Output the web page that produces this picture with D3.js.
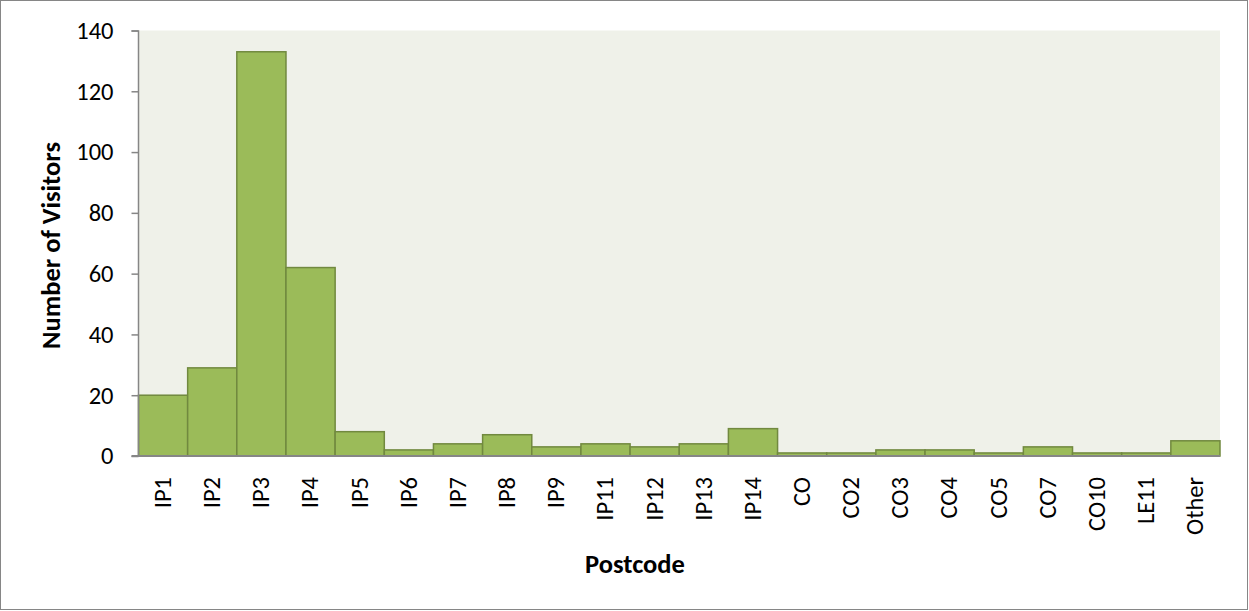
<!DOCTYPE html>
<html>
<head>
<meta charset="utf-8">
<script src="https://cdn.jsdelivr.net/npm/d3@7"></script>
<style>
  html, body { margin: 0; padding: 0; background: #fff; }
  svg { display: block; }
  svg text { font-family: Carlito, Lato, "Open Sans", sans-serif; }
</style>
</head>
<body>
<svg id="chart" width="1249" height="611"></svg>
<script>
// Visitors by postcode
const categories = ["IP1","IP2","IP3","IP4","IP5","IP6","IP7","IP8","IP9","IP11","IP12","IP13","IP14","CO","CO2","CO3","CO4","CO5","CO7","CO10","LE11","Other"];
const visitors = [20, 29, 133, 62, 8, 2, 4, 7, 3, 4, 3, 4, 9, 1, 1, 2, 2, 1, 3, 1, 1, 5];
const yTicks = [0, 20, 40, 60, 80, 100, 120, 140];

const svg = d3.select("#chart");
const W = 1249, H = 611;
const margin = { left: 138.5, right: 29, top: 30.5, bottom: 155 };
const plotW = W - margin.left - margin.right;
const plotH = H - margin.top - margin.bottom;
const FONT = "Carlito, Lato, 'Open Sans', sans-serif";

// outer frame
svg.append("rect")
  .attr("x", 0.5).attr("y", 0.5)
  .attr("width", W - 2).attr("height", H - 2)
  .attr("fill", "#fff").attr("stroke", "#868686").attr("stroke-width", 1);

const g = svg.append("g").attr("transform", `translate(${margin.left},${margin.top})`);

const x = d3.scaleBand().domain(categories).range([0, plotW]).paddingInner(0).paddingOuter(0);
const y = d3.scaleLinear().domain([0, 140]).range([plotH, 0]);

// plot background
g.append("rect")
  .attr("x", 0).attr("y", 0)
  .attr("width", plotW).attr("height", plotH)
  .attr("fill", "#EFF1E9");

// bars
g.selectAll("rect.bar")
  .data(categories.map((c, i) => ({ c, v: visitors[i] })))
  .join("rect")
  .attr("class", "bar")
  .attr("x", d => x(d.c))
  .attr("y", d => y(d.v))
  .attr("width", x.bandwidth())
  .attr("height", d => plotH - y(d.v))
  .attr("fill", "#9BBB59")
  .attr("stroke", "#71893F")
  .attr("stroke-width", 1.5);

// y axis
const yAxis = g.append("g")
  .attr("font-family", FONT)
  .call(d3.axisLeft(y).tickValues(yTicks).tickSize(7).tickPadding(18));
yAxis.select(".domain").attr("stroke", "#868686").attr("stroke-width", 1.5)
  .attr("d", `M-7,0.5H0V${plotH}`);
yAxis.selectAll(".tick line").attr("stroke", "#868686").attr("stroke-width", 1.5);
yAxis.selectAll(".tick text")
  .attr("fill", "#000")
  .style("font-family", FONT)
  .style("font-size", "24.5px");

// x axis
const xAxis = g.append("g")
  .attr("font-family", FONT)
  .attr("transform", `translate(0,${plotH})`)
  .call(d3.axisBottom(x).tickSize(0).tickPadding(0));
xAxis.select(".domain").attr("stroke", "#868686").attr("stroke-width", 2)
  .attr("d", `M-7,0H${plotW}`);
xAxis.selectAll(".tick text")
  .attr("fill", "#000")
  .style("font-family", FONT)
  .style("font-size", "24.5px")
  .attr("transform", "rotate(-90)")
  .attr("text-anchor", "end")
  .attr("x", -21)
  .attr("y", 0)
  .attr("dy", "0.32em");

// axis titles
svg.append("text")
  .attr("x", 635)
  .attr("y", 573)
  .attr("text-anchor", "middle")
  .style("font-family", FONT)
  .style("font-size", "26.5px")
  .style("font-weight", "bold")
  .text("Postcode");

svg.append("text")
  .attr("transform", `translate(60,245.5) rotate(-90)`)
  .attr("text-anchor", "middle")
  .style("font-family", FONT)
  .style("font-size", "26.5px")
  .style("font-weight", "bold")
  .text("Number of Visitors");
</script>
</body>
</html>
